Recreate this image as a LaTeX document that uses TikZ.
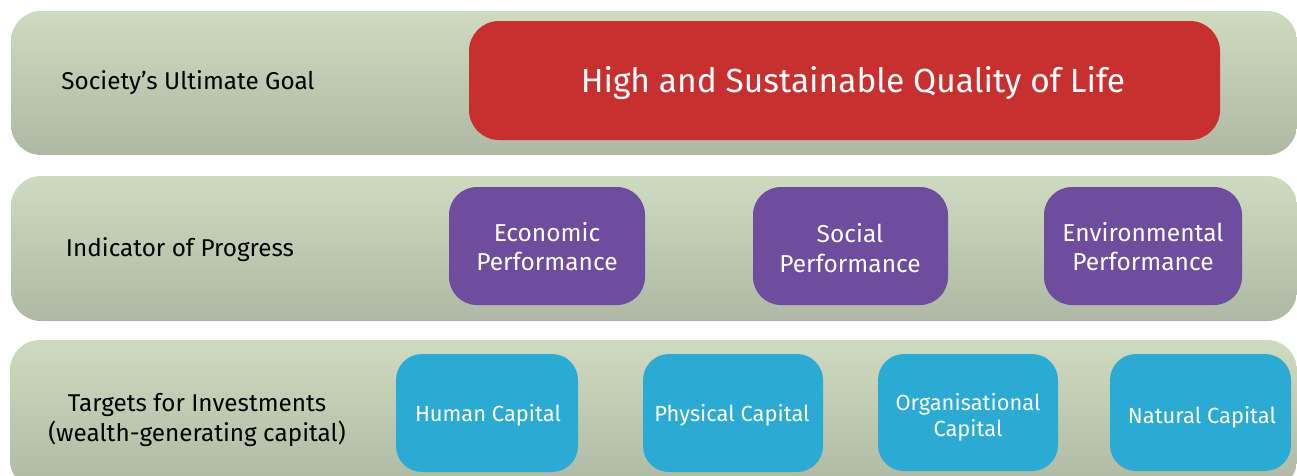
\documentclass[tikz,border=0pt]{standalone}
\usepackage{fontspec}
\setmainfont{Fira Sans}
\definecolor{bandtop}{HTML}{CFDBBF}
\definecolor{bandbot}{HTML}{AEB8A4}
\definecolor{goalred}{HTML}{C82F2F}
\definecolor{perfpurple}{HTML}{6E4C9E}
\definecolor{capblue}{HTML}{2BAAD4}
\begin{document}
\begin{tikzpicture}[x=1pt,y=-1pt,
  band/.style={rounded corners=30pt, top color=bandtop, bottom color=bandbot, draw=none},
  lbl/.style={align=center, text=black, yshift=-2.5pt, font=\fontsize{24.3}{30}\selectfont},
  goalbox/.style={rounded corners=30pt, fill=goalred, draw=none},
  perfbox/.style={rounded corners=28pt, fill=perfpurple, draw=none},
  capbox/.style={rounded corners=26pt, fill=capblue, draw=none},
  wtxt/.style={align=center, text=white, yshift=-2.5pt},
  perftxt/.style={wtxt, yshift=2pt, font=\fontsize{24.5}{29}\selectfont},
  captxt/.style={wtxt, font=\fontsize{21.9}{26}\selectfont},
]
\useasboundingbox (0,0) rectangle (1297,475);
\clip (0,0) rectangle (1297,475);
% bands
\shade[band] (11,11) rectangle (1297,155);
\shade[band] (11,176) rectangle (1297,321);
\shade[band] (10,340) rectangle (1297,490);
% row labels
\node[lbl] (l1) at (188,80) {Society’s Ultimate Goal};
\node[lbl] (l2) at (180,247) {Indicator of Progress};
\node[lbl] (l3) at (197,417) {Targets for Investments\\(wealth-generating capital)};
% goal
\fill[goalbox] (469,21) rectangle (1220,140);
\node[wtxt, font=\fontsize{33.5}{38}\selectfont] (goal) at (853,80) {High and Sustainable Quality of Life};
% performance
\fill[perfbox] (449,187) rectangle (645,305);
\fill[perfbox] (753,187) rectangle (948,305);
\fill[perfbox] (1044,187) rectangle (1242,305);
\node[perftxt] (eco) at (547,246) {Economic\\Performance};
\node[perftxt, font=\fontsize{24.5}{30}\selectfont] (soc) at (850,248) {Social\\Performance};
\node[perftxt] (env) at (1143,246) {Environmental\\Performance};
% capitals
\fill[capbox] (396,354) rectangle (578,472);
\fill[capbox] (643,354) rectangle (823,472);
\fill[capbox] (878,354) rectangle (1058,471);
\fill[capbox] (1110,354) rectangle (1291,471);
\node[captxt] (hum) at (488,413) {Human Capital};
\node[captxt] (phy) at (732,413) {Physical Capital};
\node[captxt] (org) at (968,415) {Organisational\\Capital};
\node[captxt] (nat) at (1202,415) {Natural Capital};
\end{tikzpicture}
\end{document}
